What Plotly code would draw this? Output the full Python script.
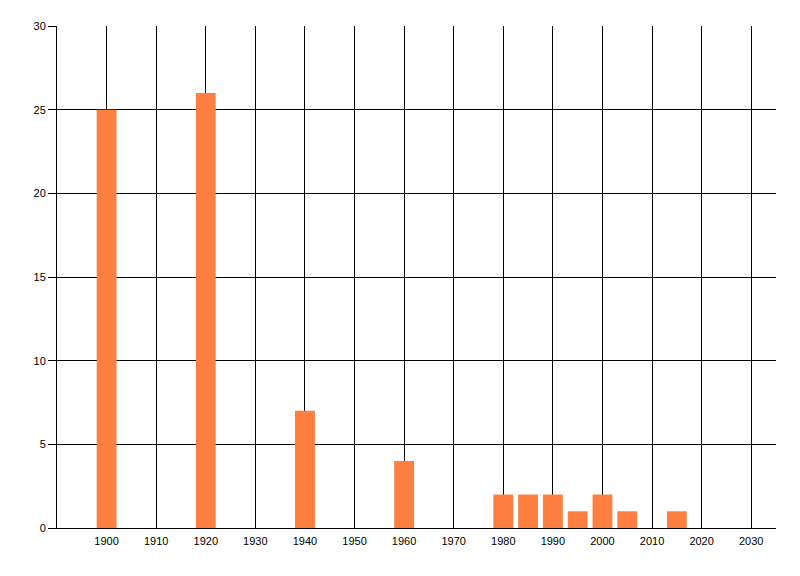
import plotly.graph_objects as go

years = [1900, 1920, 1940, 1960, 1980, 1985, 1990, 1995, 2000, 2005, 2015]
counts = [25, 26, 7, 4, 2, 2, 2, 1, 2, 1, 1]
x_ticks = list(range(1900, 2031, 10))
y_ticks = [0, 5, 10, 15, 20, 25, 30]

fig = go.Figure(go.Bar(
    x=years, y=counts, width=4,
    marker=dict(color="#FF7F40", line=dict(width=0)),
))

fig.update_layout(
    width=792, height=568,
    margin=dict(l=49, r=24, t=18, b=48),
    paper_bgcolor="white", plot_bgcolor="white",
    font=dict(family="Liberation Sans, Arial, sans-serif", size=11, color="black"),
    showlegend=False,
    xaxis=dict(
        range=[1890, 2035], tickvals=x_ticks, ticktext=[str(v) for v in x_ticks],
        showgrid=True, gridcolor="black", gridwidth=1,
        showline=True, linecolor="black", linewidth=1,
        ticks="", zeroline=False, ticklabelstandoff=3,
    ),
    yaxis=dict(
        range=[0, 30], tickvals=y_ticks,
        showgrid=True, gridcolor="black", gridwidth=1,
        showline=True, linecolor="black", linewidth=1,
        ticks="outside", ticklen=8, tickcolor="black", tickwidth=1,
        zeroline=False,
    ),
)

fig.write_html("out.html")
